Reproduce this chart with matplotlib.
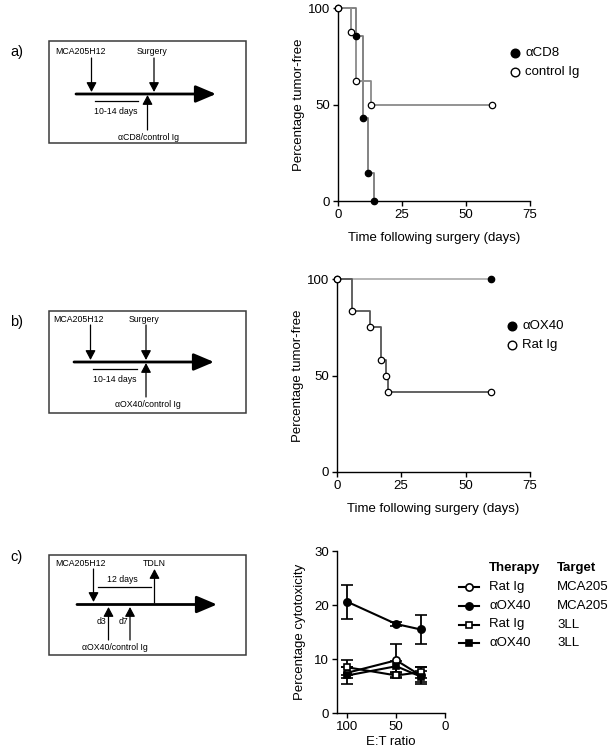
import matplotlib
matplotlib.use('Agg')
import matplotlib.pyplot as plt

plt.rcParams['font.family'] = ['Liberation Sans', 'DejaVu Sans']
plt.rcParams['font.size'] = 9.5

W, H = 612, 752

# a) survival after surgery, anti-CD8 vs control
cd8_days = [0, 7, 10, 12, 14]
cd8_pct = [100, 85.7, 42.9, 14.3, 0]
ctrl_days = [0, 5, 7, 13, 60]
ctrl_pct = [100, 87.5, 62.5, 50, 50]
a_labels = ['\u03b1CD8', 'control Ig']

# b) survival after surgery, anti-OX40 vs rat Ig
ox40_days = [0, 60]
ox40_pct = [100, 100]
rat_days = [0, 6, 13, 17, 19, 20, 60]
rat_pct = [100, 83.3, 75, 58.3, 50, 41.7, 41.7]
b_labels = ['\u03b1OX40', 'Rat Ig']

# c) cytotoxicity vs E:T ratio
et_ratio = [100, 50, 25]
therapy = ['Rat Ig', '\u03b1OX40', 'Rat Ig', '\u03b1OX40']
target = ['MCA205', 'MCA205', '3LL', '3LL']
cyto_mean = [
    [7.5, 9.8, 7.0],
    [20.6, 16.5, 15.5],
    [8.5, 7.0, 7.6],
    [7.0, 8.7, 6.8],
]
cyto_err = [
    [1.0, 3.0, 1.5],
    [3.2, 0.3, 2.6],
    [1.4, 0.4, 1.0],
    [1.6, 1.0, 1.0],
]
c_markers = ['o', 'o', 's', 's']
c_faces = ['white', 'black', 'white', 'black']

fig = plt.figure(figsize=(W / 100, H / 100), dpi=100)

# overlay in pixel coordinates for the schematics and legends
ov = fig.add_axes([0, 0, 1, 1])
ov.set_xlim(0, W)
ov.set_ylim(H, 0)
ov.axis('off')
ov.set_zorder(10)


def px_axes(left, top, right, bottom):
    ax = fig.add_axes([left / W, 1 - bottom / H, (right - left) / W, (bottom - top) / H])
    ax.patch.set_visible(False)
    return ax


def arrow(x0, y0, x1, y1, big=False):
    if big:
        style = '-|>,head_length=1.3,head_width=0.55'
        lw = 2.0
    else:
        style = '-|>,head_length=0.6,head_width=0.32'
        lw = 0.9
    ov.annotate('', xy=(x1, y1), xytext=(x0, y0),
                arrowprops=dict(arrowstyle=style, lw=lw, color='black',
                                shrinkA=0, shrinkB=0))


def box(x0, y0, x1, y1):
    ov.add_patch(plt.Rectangle((x0, y0), x1 - x0, y1 - y0, fill=False,
                               ec='#3a3a3a', lw=1.1))


def txt(x, y, s, size=6.3, ha='center', **kw):
    ov.text(x, y, s, fontsize=size, ha=ha, va='center', **kw)


# schematic a
txt(10, 52, 'a)', size=10.5, ha='left')
box(49, 41, 246, 143)
txt(81, 52, 'MCA205H12')
txt(152, 52, 'Surgery')
arrow(91.5, 58, 91.5, 92)
arrow(154, 58, 154, 92)
arrow(76, 94, 216, 94, big=True)
ov.plot([95, 138], [101, 101], color='black', lw=0.9)
txt(116, 112, '10-14 days')
arrow(147.5, 130, 147.5, 95)
txt(148, 137.5, '\u03b1CD8/control Ig')

# schematic b
txt(10, 322, 'b)', size=10.5, ha='left')
box(49, 311, 246, 413)
txt(79, 319.5, 'MCA205H12')
txt(144, 319.5, 'Surgery')
arrow(90.5, 325, 90.5, 360)
arrow(146, 325, 146, 360)
arrow(74, 362, 214, 362, big=True)
ov.plot([93, 137], [369, 369], color='black', lw=0.9)
txt(115, 380, '10-14 days')
arrow(146, 397, 146, 363)
txt(148, 404.5, '\u03b1OX40/control Ig')

# schematic c
txt(10, 557, 'c)', size=10.5, ha='left')
box(49, 555, 246, 655)
txt(81, 563.5, 'MCA205H12')
txt(154, 563.5, 'TDLN')
arrow(93.5, 569, 93.5, 602)
arrow(154.5, 603, 154.5, 569)
ov.plot([98, 151], [586.5, 586.5], color='black', lw=0.9)
txt(122, 579, '12 days')
arrow(77, 604.5, 217, 604.5, big=True)
arrow(108.5, 640, 108.5, 607)
arrow(130, 640, 130, 607)
txt(101.5, 621, 'd3')
txt(123.5, 621, 'd7')
txt(115, 647.5, '\u03b1OX40/control Ig')


def prism_axes(ax):
    for s in ['top', 'right']:
        ax.spines[s].set_visible(False)
    for s in ['left', 'bottom']:
        ax.spines[s].set_linewidth(1.0)
    ax.tick_params(direction='out', length=3.5, width=1.0, pad=2, labelsize=9.5)


def km(ax, days, pct, face, color):
    ax.step(days, pct, where='post', color=color, lw=1.3, zorder=2, clip_on=False)
    ax.plot(days, pct, ls='none', marker='o', ms=4.6, mfc=face, mec='black',
            mew=0.9, zorder=3, clip_on=False)


# a) chart
ax_a = px_axes(337.7, 8.3, 530, 201)
km(ax_a, cd8_days, cd8_pct, 'black', '#7a7a7a')
km(ax_a, ctrl_days, ctrl_pct, 'white', '#8a8a8a')
ax_a.set_xlim(0, 75)
ax_a.set_ylim(0, 100)
ax_a.set_xticks([0, 25, 50, 75])
ax_a.set_yticks([0, 50, 100])
prism_axes(ax_a)
ax_a.set_ylabel('Percentage tumor-free', labelpad=2)
ax_a.set_xlabel('Time following surgery (days)', labelpad=8)

# b) chart
ax_b = px_axes(336.7, 279.3, 530, 472)
km(ax_b, ox40_days, ox40_pct, 'black', '#b0b0b0')
km(ax_b, rat_days, rat_pct, 'white', '#555555')
ax_b.set_xlim(0, 75)
ax_b.set_ylim(0, 100)
ax_b.set_xticks([0, 25, 50, 75])
ax_b.set_yticks([0, 50, 100])
prism_axes(ax_b)
ax_b.set_ylabel('Percentage tumor-free', labelpad=2)
ax_b.set_xlabel('Time following surgery (days)', labelpad=8)

# legends for a and b
for labels, x0, y0 in [(a_labels, 514.5, 52.7), (b_labels, 511.7, 326)]:
    for i, (lab, face) in enumerate(zip(labels, ['black', 'white'])):
        y = y0 + i * 18.8
        ov.plot([x0], [y], ls='none', marker='o', ms=6.2, mfc=face, mec='black', mew=1.0)
        ov.text(x0 + 10.5, y, lab, fontsize=9.5, va='center', ha='left')

# c) chart
ax_c = px_axes(336.7, 551, 445, 713.3)
for m, e, mk, fc in zip(cyto_mean, cyto_err, c_markers, c_faces):
    ax_c.errorbar(et_ratio, m, yerr=e, color='black', lw=1.5, marker=mk,
                  ms=5.2 if mk == 'o' else 4.8, mfc=fc, mec='black', mew=1.2,
                  capsize=4.5, capthick=1.3, elinewidth=1.3, clip_on=False)
ax_c.set_xlim(111, 0)
ax_c.set_ylim(0, 30)
ax_c.set_xticks([100, 50, 0])
ax_c.set_yticks([0, 10, 20, 30])
prism_axes(ax_c)
ax_c.set_ylabel('Percentage cytotoxicity', labelpad=6)
ax_c.set_xlabel('E:T ratio', labelpad=2)

# legend for c
ov.text(489.3, 568.5, 'Therapy', fontsize=9.5, fontweight='bold', va='center')
ov.text(557.3, 568.5, 'Target', fontsize=9.5, fontweight='bold', va='center')
for i in range(len(therapy)):
    y = 586.7 + i * 18.9
    ov.plot([458.5, 478.5], [y, y], color='black', lw=1.5)
    ov.plot([468.5], [y], ls='none', marker=c_markers[i], ms=5.2 if c_markers[i] == 'o' else 4.8,
            mfc=c_faces[i], mec='black', mew=1.2)
    ov.text(489.3, y, therapy[i], fontsize=9.5, va='center')
    ov.text(557.3, y, target[i], fontsize=9.5, va='center')

fig.savefig('out.png', dpi=100)
